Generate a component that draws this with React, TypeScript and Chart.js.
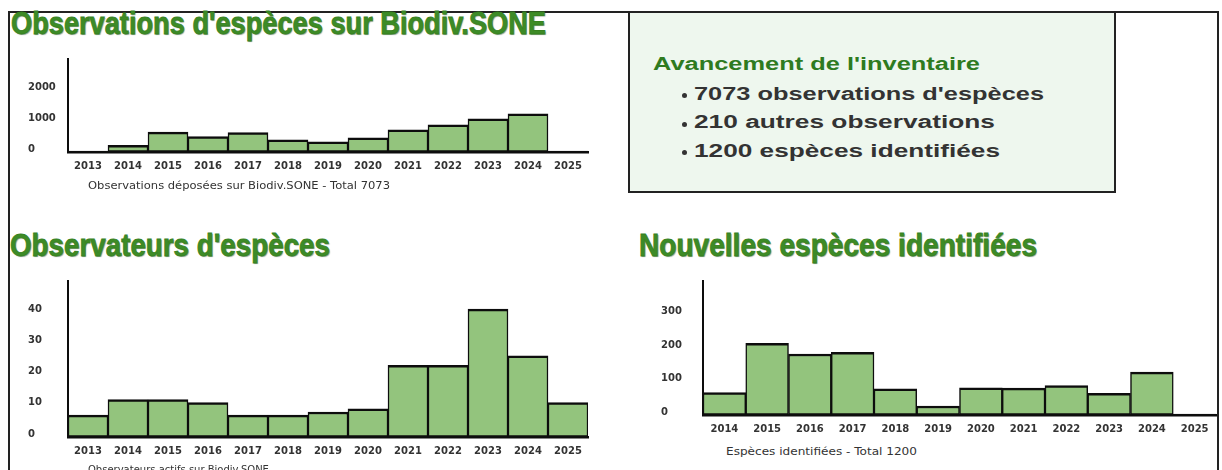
import React, { useEffect, useLayoutEffect, useRef } from 'react';
import { Chart, registerables } from 'chart.js';

Chart.register(...registerables);

// ---------- data ----------
const yearsAll = ['2013', '2014', '2015', '2016', '2017', '2018', '2019', '2020', '2021', '2022', '2023', '2024', '2025'];
const yearsSpecies = ['2014', '2015', '2016', '2017', '2018', '2019', '2020', '2021', '2022', '2023', '2024', '2025'];

const observationsPerYear = [5, 215, 640, 495, 625, 390, 325, 455, 715, 875, 1070, 1230, 33];
const observersPerYear = [7, 12, 12, 11, 7, 7, 8, 9, 23, 23, 41, 26, 11];
const newSpeciesPerYear = [67, 214, 182, 187, 78, 27, 81, 80, 88, 65, 128, 3];

const observationsAxis = { max: 3000, step: 1000 };
const observersAxis = { max: 50, step: 10 };
const speciesAxis = { max: 400, step: 100 };

const summaryTitle = "Avancement de l'inventaire";
const summaryItems = ["7073 observations d'espèces", '210 autres observations', '1200 espèces identifiées'];

const BAR_FILL = '#93c47d';
const INK = '#0d0d0d';
const TEXT = '#333333';

type BarProps = {
  labels: string[];
  values: number[];
  max: number;
  step: number;
  left: number;
  top: number;
  width: number;
  height: number;
  padLeft: number;
  padTop: number;
  padRight: number;
  yWidth: number;
  xHeight: number;
};

function BarChart(p: BarProps) {
  const ref = useRef<HTMLCanvasElement>(null);
  useEffect(() => {
    if (!ref.current) return;
    const tickFont = { family: "'DejaVu Sans', sans-serif", weight: 'bold' as const, size: 10 };
    const chart = new Chart(ref.current, {
      type: 'bar',
      data: {
        labels: p.labels,
        datasets: [
          {
            data: p.values,
            backgroundColor: BAR_FILL,
            borderColor: INK,
            borderWidth: { top: 2.5, right: 1.5, bottom: 2, left: 1.5 },
            borderSkipped: false,
            categoryPercentage: 1,
            barPercentage: 1,
            minBarLength: 1,
          },
        ],
      },
      options: {
        responsive: false,
        animation: false,
        devicePixelRatio: 1,
        layout: { padding: { left: p.padLeft, top: p.padTop, right: p.padRight, bottom: 0 } },
        plugins: { legend: { display: false }, tooltip: { enabled: false }, title: { display: false } },
        scales: {
          x: {
            grid: { display: false, drawTicks: false },
            border: { display: true, color: INK, width: 2.5, z: 1 },
            ticks: { color: TEXT, font: tickFont, padding: 8, maxRotation: 0, autoSkip: false },
            afterFit: (s: any) => {
              s.height = p.xHeight;
            },
          },
          y: {
            min: 0,
            max: p.max,
            grid: { display: false, drawTicks: false },
            border: { display: true, color: INK, width: 2, z: 1 },
            ticks: {
              stepSize: p.step,
              crossAlign: 'far',
              labelOffset: -3,
              color: TEXT,
              font: tickFont,
              callback: (v: any) => (Number(v) >= p.max ? '' : String(v)),
            },
            afterFit: (s: any) => {
              s.width = p.yWidth;
            },
          },
        },
      },
    });
    return () => chart.destroy();
  }, []);
  return (
    <canvas
      ref={ref}
      width={p.width}
      height={p.height}
      style={{ position: 'absolute', left: p.left, top: p.top, width: p.width, height: p.height }}
    />
  );
}

function Fit(props: { left: number; top: number; width?: number; style: React.CSSProperties; children: React.ReactNode }) {
  const ref = useRef<HTMLDivElement>(null);
  useLayoutEffect(() => {
    const el = ref.current;
    if (!el || !props.width) return;
    el.style.transform = 'none';
    const w = el.getBoundingClientRect().width;
    if (w > 0) el.style.transform = `scaleX(${props.width / w})`;
  });
  return (
    <div
      ref={ref}
      style={{
        position: 'absolute',
        left: props.left,
        top: props.top,
        whiteSpace: 'nowrap',
        lineHeight: 1,
        transformOrigin: '0 0',
        ...props.style,
      }}
    >
      {props.children}
    </div>
  );
}

const titleStyle: React.CSSProperties = {
  fontFamily: "'Liberation Sans Narrow', 'Liberation Sans', sans-serif",
  fontWeight: 'bold',
  fontSize: 31,
  color: '#3d8b27',
  WebkitTextStroke: '0.8px #37821f',
  textShadow: '1px 1px 1px rgba(10,50,5,0.45)',
};

const captionStyle: React.CSSProperties = {
  fontFamily: "'DejaVu Sans', sans-serif",
  fontSize: 10,
  color: TEXT,
};

const boxTextStyle: React.CSSProperties = {
  fontFamily: "'Liberation Sans', sans-serif",
  fontWeight: 'bold',
  fontSize: 18,
  color: TEXT,
};

export default function App() {
  const itemBaselines = [100, 128.5, 157];
  const itemWidths = [350, 301, 306];
  return (
    <div
      style={{
        position: 'absolute',
        left: 0,
        top: 0,
        width: 1222,
        height: 470,
        overflow: 'hidden',
        background: '#ffffff',
      }}
    >
      {/* outer frame */}
      <div
        style={{
          position: 'absolute',
          left: 8,
          top: 11,
          width: 1211,
          height: 480,
          borderTop: '2px solid #222',
          borderLeft: '2px solid #222',
          borderRight: '2px solid #222',
          boxSizing: 'border-box',
        }}
      />
      {/* summary box */}
      <div
        style={{
          position: 'absolute',
          left: 628,
          top: 11,
          width: 488,
          height: 182,
          border: '2px solid #222',
          background: '#eef7ee',
          boxSizing: 'border-box',
        }}
      />
      <Fit left={653} top={71 - 0.8465 * 17.5} width={327} style={{ ...boxTextStyle, fontSize: 17.5, color: '#2e7b1f' }}>
        {summaryTitle}
      </Fit>
      {summaryItems.map((t, i) => (
        <React.Fragment key={t}>
          <div
            style={{
              position: 'absolute',
              left: 682,
              top: itemBaselines[i] - 7,
              width: 5,
              height: 5,
              borderRadius: '50%',
              background: TEXT,
            }}
          />
          <Fit left={694} top={itemBaselines[i] - 0.8465 * 18} width={itemWidths[i]} style={boxTextStyle}>
            {t}
          </Fit>
        </React.Fragment>
      ))}

      {/* titles */}
      <Fit left={11} top={34.5 - 0.8465 * 31} width={535} style={titleStyle}>
        Observations d'espèces sur Biodiv.SONE
      </Fit>
      <Fit left={10} top={256.5 - 0.8465 * 31} width={320} style={titleStyle}>
        Observateurs d'espèces
      </Fit>
      <Fit left={639} top={256.5 - 0.8465 * 31} width={398} style={titleStyle}>
        Nouvelles espèces identifiées
      </Fit>

      {/* charts */}
      <BarChart
        labels={yearsAll}
        values={observationsPerYear}
        max={observationsAxis.max}
        step={observationsAxis.step}
        left={0}
        top={50}
        width={600}
        height={132}
        padLeft={28}
        padTop={8}
        padRight={12}
        yWidth={40}
        xHeight={30}
      />
      <BarChart
        labels={yearsAll}
        values={observersPerYear}
        max={observersAxis.max}
        step={observersAxis.step}
        left={0}
        top={270}
        width={600}
        height={197}
        padLeft={28}
        padTop={11}
        padRight={12}
        yWidth={40}
        xHeight={30}
      />
      <BarChart
        labels={yearsSpecies}
        values={newSpeciesPerYear}
        max={speciesAxis.max}
        step={speciesAxis.step}
        left={640}
        top={270}
        width={578}
        height={175}
        padLeft={21}
        padTop={11}
        padRight={2}
        yWidth={42}
        xHeight={30}
      />

      {/* captions */}
      <Fit left={88} top={181} width={302} style={captionStyle}>
        Observations déposées sur Biodiv.SONE - Total 7073
      </Fit>
      <Fit left={88} top={464.5} style={captionStyle}>
        Observateurs actifs sur Biodiv.SONE
      </Fit>
      <Fit left={726} top={447} width={191} style={captionStyle}>
        Espèces identifiées - Total 1200
      </Fit>
    </div>
  );
}
